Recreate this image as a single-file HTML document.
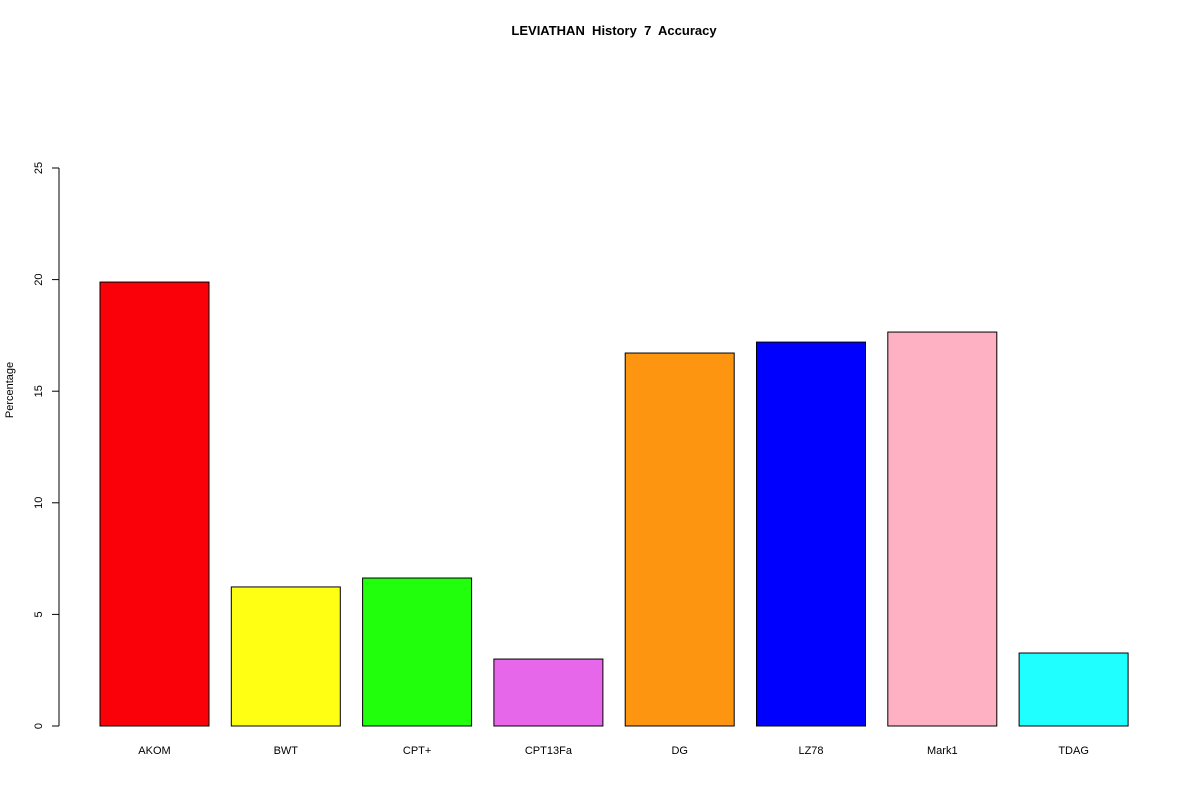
<!DOCTYPE html>
<html><head><meta charset="utf-8"><style>
html,body{margin:0;padding:0;background:#fff;width:1200px;height:800px;overflow:hidden}
svg text{font-family:"Liberation Sans",Arial,sans-serif;fill:#000}
</style></head><body>
<svg id="chart" width="1200" height="800">
<text x="614" y="35" text-anchor="middle" font-size="13" font-weight="bold" style="white-space:pre" xml:space="preserve">LEVIATHAN  History  7  Accuracy</text>
<text transform="translate(13,390) rotate(-90)" text-anchor="middle" font-size="11">Percentage</text>
<g id="yaxis"></g>
<g id="bars"></g>
</svg>
<script>
const categories=["AKOM","BWT","CPT+","CPT13Fa","DG","LZ78","Mark1","TDAG"];
const values=[19.89,6.23,6.63,3.0,16.71,17.2,17.65,3.27];
const colors=["#fa0008","#ffff14","#22ff0d","#e667e9","#fd9510","#0000ff","#feb1c3","#1fffff"];
const yTicks=[0,5,10,15,20,25];
const NS="http://www.w3.org/2000/svg";
const y0=726,y25=168,yMax=25;
function yScale(v){return y0-(v/yMax)*(y0-y25);}
function xScale(i){return 100+i*131.3;}
const bw=109;
const ya=document.getElementById('yaxis');
function mk(t,a,p){const e=document.createElementNS(NS,t);for(const k in a)e.setAttribute(k,a[k]);p.appendChild(e);return e;}
const axisLine=mk('line',{x1:59,x2:59,y1:yScale(0),y2:yScale(25),stroke:'#000'},ya);


yTicks.forEach(t=>{
  const y=yScale(t);
  const l=mk('line',{x1:52,x2:59,y1:y,y2:y,stroke:'#000'},ya);
  
  
  const tx=mk('text',{transform:`translate(42,${y}) rotate(-90)`,'text-anchor':'middle','font-size':'11'},ya);
  tx.textContent=t;
  
  
});
const bg=document.getElementById('bars');
categories.forEach((c,i)=>{
  const x=xScale(i),y=yScale(values[i]);
  const r=mk('rect',{x:x,y:y,width:bw,height:yScale(0)-y,fill:colors[i],stroke:'#000','stroke-width':1},bg);
  
  
  const t=mk('text',{x:x+bw/2,y:754,'text-anchor':'middle','font-size':'11'},bg);
  t.textContent=c;
  
  
});
</script>
</body></html>
